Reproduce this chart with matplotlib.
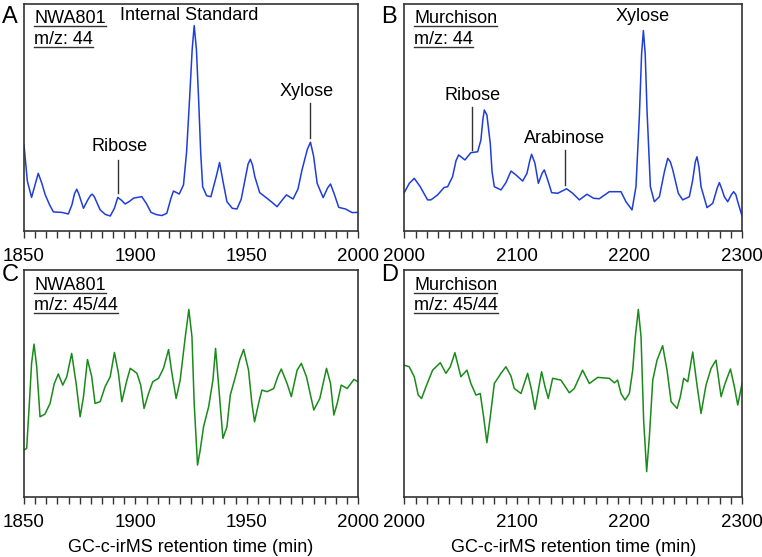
import matplotlib
matplotlib.use("Agg")
import matplotlib.pyplot as plt
from matplotlib.lines import Line2D

plt.rcParams['font.family'] = ['Liberation Sans', 'DejaVu Sans']

# panel A: NWA801 m/z 44 (retention time, relative signal %)
a_x = [1850, 1851.5, 1853.4, 1855.0, 1856.4, 1858.0, 1859.5, 1861.5, 1863.2, 1866.9, 1869.9,
       1871.5, 1872.7, 1873.7, 1874.7, 1876.7, 1878.8, 1880.0, 1880.7, 1881.6, 1882.5, 1884.2,
       1886.5, 1888.7, 1890.6, 1892.1, 1893.8, 1895.4, 1897.3, 1899.2, 1902.9, 1905.0, 1907.0,
       1909.5, 1911.9, 1914.1, 1916.0, 1917.1, 1918.3, 1919.7, 1921.6, 1923.0, 1924.3, 1925.5,
       1926.4, 1927.4, 1928.4, 1929.3, 1930.2, 1932.0, 1933.9, 1936.3, 1937.8, 1939.3, 1941.1,
       1943.5, 1945.6, 1947.5, 1949.5, 1950.6, 1951.6, 1952.6, 1953.6, 1955.8, 1959.1, 1961.5,
       1963.6, 1965.8, 1967.8, 1970.8, 1973.0, 1974.8, 1977.2, 1978.6, 1980.0, 1981.6, 1984.3,
       1986.3, 1987.6, 1989.2, 1991.3, 1994.3, 1997.3, 2000]
a_y = [37.9, 22.0, 14.8, 20.5, 25.4, 21.0, 16.0, 11.5, 8.4, 8.2, 7.5,
       11.5, 16.5, 18.4, 16.0, 10.0, 14.0, 15.8, 16.2, 15.0, 13.0, 9.3,
       7.3, 6.6, 10.0, 14.8, 13.5, 11.9, 13.0, 14.5, 15.1, 12.0, 8.2,
       7.2, 6.8, 7.8, 14.5, 17.6, 17.0, 16.3, 20.3, 35.0, 57.7, 80.0,
       90.5, 80.0, 57.7, 35.0, 19.5, 15.5, 15.1, 24.0, 30.2, 22.0, 12.9,
       10.0, 9.7, 14.0, 24.0, 29.5, 31.6, 29.0, 24.0, 16.9, 14.4, 12.5,
       10.7, 13.5, 15.9, 14.1, 18.5, 26.9, 36.0, 39.1, 33.0, 21.0, 14.7,
       19.0, 20.7, 16.5, 10.4, 9.7, 8.1, 8.2]

# panel B: Murchison m/z 44
b_x = [2000, 2004.5, 2008.9, 2014.2, 2020.7, 2023.7, 2029.6, 2035.5, 2038.5, 2042.9, 2046.0,
       2048.3, 2053.9, 2059.2, 2065.2, 2068.1, 2069.8, 2071.1, 2073.4, 2076.4, 2078.0, 2080.0,
       2085.9, 2090.3, 2094.8, 2099.2, 2105.2, 2109.0, 2111.5, 2113.1, 2116.1, 2119.1, 2122.5,
       2124.4, 2127.4, 2130.9, 2136.2, 2144.2, 2149.6, 2155.5, 2162.3, 2168.2, 2173.2, 2182.1,
       2188.1, 2192.5, 2196.9, 2202.3, 2205.8, 2208.8, 2210.8, 2212.4, 2214.0, 2215.6, 2218.6,
       2222.1, 2226.6, 2231.0, 2234.0, 2236.3, 2238.5, 2243.4, 2247.3, 2253.2, 2256.2, 2258.5,
       2260.0, 2261.8, 2263.6, 2268.9, 2274.0, 2278.0, 2279.9, 2282.0, 2284.3, 2287.3, 2290.5,
       2292.6, 2294.5, 2296.2, 2300]
b_y = [16.9, 21.0, 23.2, 19.5, 13.7, 13.7, 15.9, 19.2, 19.5, 23.9, 31.0,
       33.5, 31.3, 34.5, 34.9, 40.1, 49.0, 53.3, 51.1, 38.6, 26.0, 19.5,
       18.1, 21.3, 26.4, 24.7, 22.0, 25.4, 31.0, 33.8, 29.8, 21.0, 25.5,
       26.9, 22.5, 16.9, 16.6, 18.6, 16.6, 13.7, 16.2, 14.4, 14.2, 17.3,
       17.3, 17.3, 12.9, 9.3, 19.5, 50.4, 78.0, 88.3, 78.0, 53.3, 19.5,
       12.9, 15.1, 26.0, 32.0, 30.5, 26.9, 16.6, 13.7, 15.1, 22.5, 30.5,
       32.7, 28.0, 19.5, 10.3, 12.2, 19.0, 21.3, 18.5, 15.1, 12.9, 16.0,
       17.3, 16.0, 12.9, 6.6]

# panel C: NWA801 m/z 45/44
c_x = [1850, 1851.2, 1852.4, 1853.4, 1854.5, 1855.7, 1857.2, 1859.4, 1861.7, 1863.6, 1865.4,
       1867.4, 1869.2, 1871.4, 1873.4, 1875.2, 1876.7, 1878.5, 1880.4, 1881.9, 1884.2, 1886.4,
       1888.7, 1890.6, 1892.4, 1893.9, 1896.2, 1897.7, 1900.7, 1902.4, 1903.9, 1905.9, 1907.8,
       1910.4, 1912.6, 1914.9, 1916.4, 1918.3, 1920.1, 1922.4, 1924.0, 1925.4, 1926.4, 1927.9,
       1929.1, 1930.6, 1932.9, 1934.8, 1936.0, 1937.3, 1939.3, 1941.1, 1942.6, 1944.9, 1946.8,
       1948.6, 1950.8, 1952.3, 1953.5, 1955.3, 1956.8, 1959.1, 1962.1, 1963.9, 1965.5, 1968.1,
       1970.0, 1972.6, 1974.5, 1976.8, 1980.1, 1982.8, 1985.8, 1987.6, 1989.1, 1990.6, 1992.4,
       1995.1, 1998.1, 2000]
c_y = [20.7, 21.5, 41.3, 59.0, 67.5, 57.5, 35.4, 36.6, 41.3, 50.1, 54.3,
       49.4, 53.1, 63.4, 50.1, 35.4, 44.3, 60.7, 53.1, 41.3, 42.1, 48.7,
       53.1, 63.8, 54.6, 42.1, 51.6, 56.8, 54.6, 49.4, 39.1, 45.7, 50.9,
       52.4, 56.8, 65.1, 54.6, 43.5, 51.6, 70.7, 82.8, 70.7, 41.3, 14.1,
       20.7, 31.0, 39.9, 51.6, 65.6, 50.1, 25.9, 31.0, 45.0, 53.1, 60.4,
       65.1, 56.0, 41.3, 33.2, 41.3, 47.2, 46.5, 47.9, 53.1, 56.5, 50.1,
       44.3, 56.0, 59.0, 53.1, 38.4, 43.5, 56.8, 50.1, 36.2, 41.3, 49.4,
       47.9, 51.9, 50.9]

# panel D: Murchison m/z 45/44
d_x = [2000, 2004.4, 2008.9, 2012.4, 2015.4, 2019.3, 2025.2, 2032.0, 2037.0, 2040.9, 2045.0,
       2050.3, 2055.7, 2059.2, 2063.7, 2067.5, 2070.5, 2073.4, 2076.4, 2080.0, 2085.9, 2090.3,
       2094.8, 2097.7, 2103.7, 2109.6, 2113.1, 2116.1, 2119.1, 2122.0, 2125.0, 2127.9, 2131.8,
       2139.2, 2146.6, 2151.0, 2158.4, 2164.4, 2171.8, 2182.1, 2186.6, 2189.5, 2192.5, 2196.1,
       2199.9, 2202.9, 2205.2, 2207.9, 2210.3, 2212.6, 2215.3, 2217.7, 2220.7, 2224.5, 2229.5,
       2233.4, 2237.0, 2242.3, 2245.2, 2248.2, 2251.8, 2256.2, 2260.0, 2263.6, 2268.0, 2272.5,
       2276.9, 2281.4, 2284.9, 2289.7, 2293.2, 2296.2, 2300]
d_y = [58.2, 57.5, 53.1, 45.0, 43.5, 48.7, 56.0, 59.3, 54.6, 57.5, 63.7,
       53.1, 56.0, 50.1, 45.0, 45.7, 35.4, 24.0, 35.4, 50.1, 54.6, 57.5,
       53.4, 47.9, 45.7, 54.6, 47.2, 38.7, 47.2, 55.3, 48.7, 43.5, 52.4,
       51.6, 46.0, 47.9, 56.0, 50.1, 52.8, 52.4, 50.4, 51.6, 45.7, 42.8,
       45.7, 56.0, 70.7, 82.8, 70.7, 34.0, 11.2, 26.6, 51.6, 60.4, 66.8,
       56.0, 42.1, 39.1, 44.3, 52.4, 50.9, 64.0, 49.4, 36.9, 49.4, 56.8,
       60.4, 44.3, 50.1, 56.5, 48.7, 40.6, 50.1]

blue = '#1f3ddb'
green = '#1a8a1a'

fig = plt.figure(figsize=(7.62, 5.57), dpi=100)
axA = fig.add_axes([0.0315, 0.5853, 0.4385, 0.4075])
axB = fig.add_axes([0.5305, 0.5853, 0.4433, 0.4075])
axC = fig.add_axes([0.0315, 0.1077, 0.4385, 0.4067])
axD = fig.add_axes([0.5305, 0.1077, 0.4433, 0.4067])

panels = [
    (axA, a_x, a_y, blue, (1850, 2000), 50, 5, 'NWA801', 'm/z: 44'),
    (axB, b_x, b_y, blue, (2000, 2300), 100, 10, 'Murchison', 'm/z: 44'),
    (axC, c_x, c_y, green, (1850, 2000), 50, 5, 'NWA801', 'm/z: 45/44'),
    (axD, d_x, d_y, green, (2000, 2300), 100, 10, 'Murchison', 'm/z: 45/44'),
]

labels = []
for ax, x, y, col, lim, major, minor, name, mz in panels:
    ax.plot(x, y, color=col, lw=1.1)
    ax.set_xlim(*lim)
    ax.set_ylim(0, 100)
    ax.set_yticks([])
    ax.set_xticks(range(lim[0], lim[1] + 1, major))
    ax.set_xticks(range(lim[0], lim[1] + 1, minor), minor=True)
    ax.tick_params(axis='x', which='both', length=5, width=1, direction='out',
                   labelsize=13.5, pad=7, color='#333333')
    for s in ax.spines.values():
        s.set_linewidth(1.2)
        s.set_color('#333333')
    t1 = ax.text(0.03, 0.935, name, transform=ax.transAxes, fontsize=13, va='center')
    t2 = ax.text(0.03, 0.845, mz, transform=ax.transAxes, fontsize=13, va='center')
    labels += [t1, t2]

for ax in (axC, axD):
    ax.set_xlabel('GC-c-irMS retention time (min)', fontsize=13, labelpad=6)

# peak annotations
axA.text(1924.1, 95, 'Internal Standard', fontsize=13, ha='center', va='center')
axA.text(1893.0, 37.1, 'Ribose', fontsize=13, ha='center', va='center')
axA.plot([1892.1, 1892.1], [31.3, 16.9], color='#333333', lw=1)
axA.text(1977.1, 61.4, 'Xylose', fontsize=13, ha='center', va='center')
axA.plot([1978.4, 1978.4], [56.5, 40.8], color='#333333', lw=1)

axB.text(2060.3, 59.6, 'Ribose', fontsize=13, ha='center', va='center')
axB.plot([2059.9, 2059.9], [54.8, 35.7], color='#333333', lw=1)
axB.text(2142.1, 40.8, 'Arabinose', fontsize=13, ha='center', va='center')
axB.plot([2143.0, 2143.0], [35.7, 20.3], color='#333333', lw=1)
axB.text(2211.3, 94.4, 'Xylose', fontsize=13, ha='center', va='center')

# panel letters
for letter, xf, yf in [('A', 0.002, 0.970), ('B', 0.5, 0.970), ('C', 0.002, 0.507), ('D', 0.5, 0.507)]:
    fig.text(xf, yf, letter, fontsize=17, ha='left', va='center')

# keep the last tick label of the right panels inside the figure
for ax in (axB, axD):
    ax.get_xticklabels()[-1].set_horizontalalignment('right')
    ax.get_xticklabels()[-1].set_x(2300)

fig.canvas.draw()
for ax in (axB, axD):
    lab = ax.xaxis.get_majorticklabels()[-1]
    lab.set_horizontalalignment('center')

# underline the sample labels
r = fig.canvas.get_renderer()
W, H = fig.bbox.width, fig.bbox.height
for t in labels:
    bb = t.get_window_extent(r)
    yy = (bb.y0 + 1) / H
    fig.add_artist(Line2D([bb.x0 / W, bb.x1 / W], [yy, yy], color='#333333', lw=1,
                          transform=fig.transFigure))

fig.savefig('out.png', dpi=100)
